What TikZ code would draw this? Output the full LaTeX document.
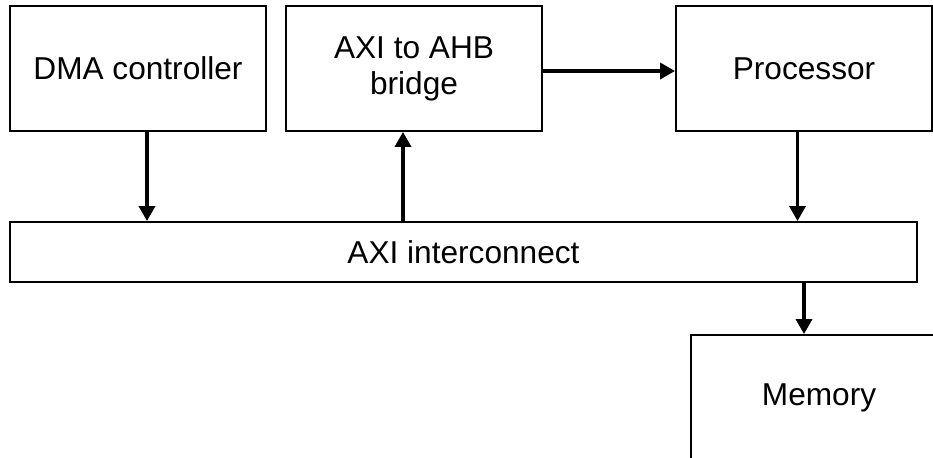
\documentclass[tikz,border=0pt]{standalone}
\usepackage{fontspec}
\setmainfont{Liberation Sans}
\usetikzlibrary{arrows.meta, calc}

\begin{document}
\begin{tikzpicture}[>={Triangle[length=3mm, width=3.2mm]}, line width=2pt,
    blk/.style={draw, line width=1.1pt, align=center, inner sep=0pt,
      minimum width=5.12cm, minimum height=2.5cm,
      font=\fontsize{18}{20.5}\selectfont}]
  \useasboundingbox (0,0) rectangle (18.66,-9.16);
  % upper row
  \node[blk] (dma) at (2.76,-1.37) {DMA controller};
  \node[blk] (bridge) at (8.28,-1.37) {AXI to AHB\\bridge};
  \node[blk] (proc) at (16.08,-1.37) {Processor};
  % bus
  \node[blk, minimum width=18.14cm, minimum height=1.2cm] (ic) at (9.27,-5.04) {AXI interconnect};
  \node[blk] (mem) at (16.38,-7.95) {Memory};
  % connections
  \draw[->] ([xshift=0.18cm]dma.south) -- ([xshift=0.18cm]dma.south |- ic.north);
  \draw[->] ([xshift=-0.22cm]bridge.south |- ic.north) -- ([xshift=-0.22cm]bridge.south);
  \draw[->] ([yshift=-0.05cm]bridge.east) -- ([yshift=-0.05cm]proc.west);
  \draw[->] ([xshift=-0.13cm]proc.south) -- ([xshift=-0.13cm]proc.south |- ic.north);
  \draw[->] ([xshift=-0.3cm]mem.north |- ic.south) -- ([xshift=-0.3cm]mem.north);
\end{tikzpicture}
\end{document}
